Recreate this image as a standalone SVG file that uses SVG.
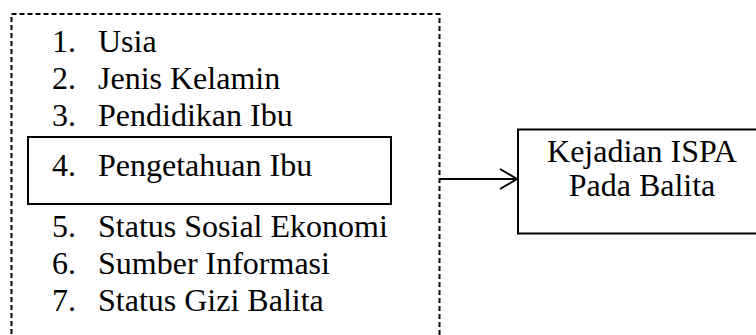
<svg xmlns="http://www.w3.org/2000/svg" width="756" height="335" viewBox="0 0 756 335">
<style>
.t{font-family:"Liberation Serif","Times New Roman",serif;font-size:32px;fill:#000}
.box{fill:none;stroke:#000;stroke-width:2}
.dash{fill:none;stroke:#000;stroke-width:2;stroke-dasharray:5 3}
</style>
<rect width="756" height="335" fill="#fff"/>
<g id="factors">
<rect class="dash" x="11.5" y="14" width="428" height="340"/>
<text class="t" x="52" y="52">1.</text><text class="t" x="98" y="52">Usia</text>
<text class="t" x="52" y="89">2.</text><text class="t" x="98" y="89">Jenis Kelamin</text>
<text class="t" x="52" y="126">3.</text><text class="t" x="98" y="126">Pendidikan Ibu</text>
<g id="pengetahuan">
<rect class="box" x="28" y="137" width="363" height="67"/>
<text class="t" x="52" y="176">4.</text><text class="t" x="98" y="176">Pengetahuan Ibu</text>
</g>
<text class="t" x="52" y="237">5.</text><text class="t" x="98" y="237">Status Sosial Ekonomi</text>
<text class="t" x="52" y="274">6.</text><text class="t" x="98" y="274">Sumber Informasi</text>
<text class="t" x="52" y="311">7.</text><text class="t" x="98" y="311">Status Gizi Balita</text>
</g>
<g id="ispa">
<rect class="box" x="518" y="129.5" width="250" height="104"/>
<text class="t" x="642" y="162" text-anchor="middle">Kejadian ISPA</text>
<text class="t" x="642" y="196" text-anchor="middle">Pada Balita</text>
</g>
<g id="connectors">
<line class="box" x1="440" y1="179" x2="517" y2="179"/>
<polyline class="box" points="500,169 517,179 500,189"/>
</g>
</svg>
